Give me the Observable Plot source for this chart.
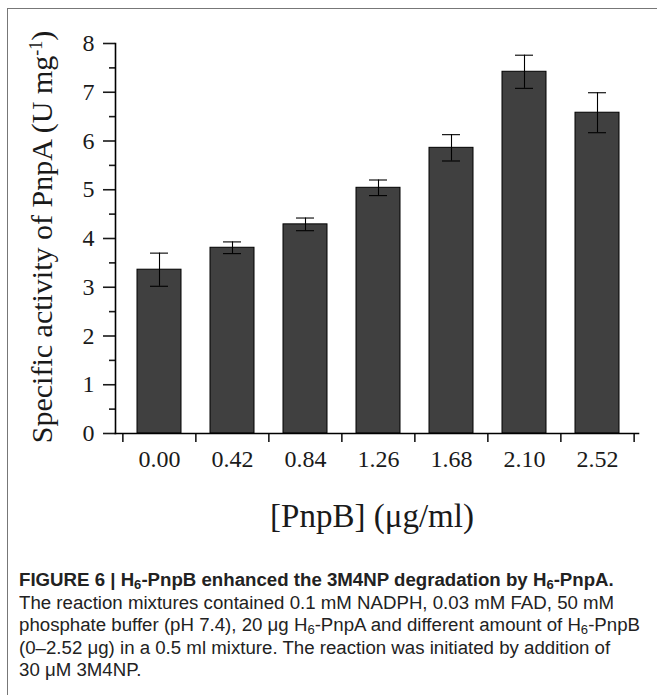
<!DOCTYPE html>
<html><head><meta charset="utf-8">
<script src="https://cdn.jsdelivr.net/npm/d3@7"></script>
<script src="https://cdn.jsdelivr.net/npm/@observablehq/plot@0.6"></script>
<style>
html,body{margin:0;padding:0;background:#fff;}
#frame{position:absolute;left:7px;top:8px;width:650px;height:687px;border-left:1px solid #777;border-top:1px solid #777;}
#chart{position:absolute;left:0;top:0;}
#caption{position:absolute;left:19px;top:569px;font-family:"Liberation Sans",Arial,sans-serif;font-size:18px;line-height:22.5px;color:#222;white-space:nowrap;transform-origin:0 0;}
#caption sub{font-size:0.7em;vertical-align:-0.25em;line-height:0;}
</style></head><body>
<div id="frame"></div>
<div id="chart"></div>
<div id="caption"><b>FIGURE 6 | H<sub>6</sub>-PnpB enhanced the 3M4NP degradation by H<sub>6</sub>-PnpA.</b><br>The reaction mixtures contained 0.1 mM NADPH, 0.03 mM FAD, 50 mM<br><span id="longline">phosphate buffer (pH 7.4), 20 μg H<sub>6</sub>-PnpA and different amount of H<sub>6</sub>-PnpB</span><br>(0–2.52 μg) in a 0.5 ml mixture. The reaction was initiated by addition of<br>30 μM 3M4NP.</div>
<script>
const concentrations = ["0.00", "0.42", "0.84", "1.26", "1.68", "2.10", "2.52"];
const activity = [3.36, 3.81, 4.29, 5.04, 5.86, 7.42, 6.58];
const errors = [0.34, 0.12, 0.13, 0.16, 0.27, 0.34, 0.41];
const yMajorTicks = [0, 1, 2, 3, 4, 5, 6, 7, 8];
const yMinorTicks = [0.5, 1.5, 2.5, 3.5, 4.5, 5.5, 6.5, 7.5];
const xLabel = "[PnpB] (μg/ml)";
const yLabel = "Specific activity of PnpA (U mg-1)";

const data = concentrations.map((c, i) => ({
  conc: c, activity: activity[i], lo: activity[i] - errors[i], hi: activity[i] + errors[i]
}));

const W = 657, H = 545, mL = 115, mR = 19, mT = 43, mB = 112, inL = 6.5, inR = 3.5;
const step = (W - mL - mR - inL - inR) / concentrations.length;
const ink = "#1a1a1a";

const chart = Plot.plot({
  width: W, height: H,
  marginLeft: mL, marginRight: mR, marginTop: mT, marginBottom: mB,
  style: {fontFamily: "'Liberation Serif', 'Times New Roman', serif", fontSize: "24px", color: ink, background: "transparent", overflow: "visible"},
  x: {type: "band", domain: concentrations, paddingInner: 0.4, paddingOuter: 0.2, insetLeft: inL, insetRight: inR},
  y: {domain: [0, 8]},
  marks: [
    Plot.barY(data, {x: "conc", y: "activity", fill: "#404040", stroke: "#000", strokeWidth: 1}),
    Plot.ruleX(data, {x: "conc", y1: "lo", y2: "hi", stroke: "#000", strokeWidth: 1.1}),
    Plot.tickY(data, {x: "conc", y: "hi", insetLeft: 13, insetRight: 13, stroke: "#000", strokeWidth: 1.1}),
    Plot.tickY(data, {x: "conc", y: "lo", insetLeft: 13, insetRight: 13, stroke: "#000", strokeWidth: 1.1}),
    Plot.axisY({ticks: yMajorTicks, tickSize: 12, tickPadding: 9, strokeWidth: 1.6, fontSize: 24, label: yLabel, labelArrow: "none", labelAnchor: "center", labelOffset: 86, color: ink}),
    Plot.axisY({ticks: yMinorTicks, tickSize: 6, strokeWidth: 1.6, tickFormat: () => "", label: null}),
    Plot.axisX({tickSize: 0, tickPadding: 16, fontSize: 24, label: xLabel, labelArrow: "none", labelAnchor: "center", labelOffset: 92, color: ink}),
    Plot.axisX({ticks: concentrations, tickSize: 9, strokeWidth: 1.6, tickFormat: () => "", label: null, dx: -step / 2}),
    Plot.axisX({ticks: concentrations.slice(-1), tickSize: 9, strokeWidth: 1.6, tickFormat: () => "", label: null, dx: step / 2}),
    Plot.frame({anchor: "left", stroke: "#000", strokeWidth: 1.6}),
    Plot.frame({anchor: "bottom", stroke: "#000", strokeWidth: 1.6})
  ]
});
document.getElementById("chart").append(chart);

// place a text element so its box is centred on (cx, cy)
function centreOn(el, cx, cy) {
  const r = el.getBoundingClientRect();
  const g = document.createElementNS("http://www.w3.org/2000/svg", "g");
  g.setAttribute("transform", `translate(${cx - (r.left + r.width / 2)},${cy - (r.top + r.height / 2)})`);
  el.parentNode.insertBefore(g, el);
  g.appendChild(el);
}

d3.select(chart).selectAll("text").each(function () {
  const t = this.textContent;
  if (t.startsWith("[PnpB]")) {
    d3.select(this).attr("font-size", 33);
    centreOn(this, 372, 516);
  } else if (t.startsWith("Specific")) {
    const el = d3.select(this).attr("font-size", 30);
    const node = el.select("tspan").empty() ? el : el.select("tspan");
    node.text(null);
    node.append("tspan").text("Specific activity of PnpA (U mg");
    node.append("tspan").attr("dy", "-0.55em").attr("font-size", "0.6em").text("-1");
    node.append("tspan").attr("dy", "0.33em").text(")");
    centreOn(this, 42, 237);
  }
});

// caption: condensed face like the journal's
const cap = document.getElementById("caption");
const lw = document.getElementById("longline").getBoundingClientRect().width;
cap.style.transform = `scaleX(${621 / lw})`;
</script>
</body></html>
